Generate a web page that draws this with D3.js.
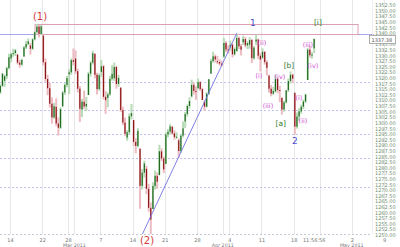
<!DOCTYPE html>
<html>
<head>
<meta charset="utf-8">
<script src="https://cdn.jsdelivr.net/npm/d3@7"></script>
<style>
body{margin:0;background:#fff;}
svg{display:block;font-family:"DejaVu Sans",sans-serif;}
</style>
</head>
<body>
<svg id="chart"></svg>
<script>
// Set data
const sessions = ["Feb 10","Feb 11","Feb 14","Feb 15","Feb 16","Feb 17","Feb 18","Feb 22","Feb 23","Feb 24","Feb 25","Feb 28",
    "Mar 1","Mar 2","Mar 3","Mar 4","Mar 7","Mar 8","Mar 9","Mar 10","Mar 11","Mar 14","Mar 15","Mar 16","Mar 17","Mar 18",
    "Mar 21","Mar 22","Mar 23","Mar 24","Mar 25","Mar 28","Mar 29","Mar 30","Mar 31",
    "Apr 1","Apr 4","Apr 5","Apr 6","Apr 7","Apr 8","Apr 11","Apr 12","Apr 13","Apr 14","Apr 15","Apr 18","Apr 19","Apr 20","Apr 21",
    "Apr 25","Apr 26","Apr 27","Apr 28","Apr 29","May 2","May 3","May 4","May 5","May 6","May 9"];

// three bars a day: [open, high, low, close]
const febBars = [
    [[1312.4,1315.0,1311.7,1313.6],[1313.6,1317.2,1312.8,1316.5],[1316.5,1322.1,1315.9,1321.9]],
    [[1318.7,1321.5,1316.1,1320.8],[1320.8,1325.0,1319.5,1324.4],[1324.4,1330.8,1323.8,1329.2]],
    [[1328.7,1331.2,1326.9,1330.6],[1330.6,1333.0,1329.4,1331.1],[1331.1,1332.9,1329.8,1332.3]],
    [[1330.4,1330.6,1326.0,1326.8],[1326.8,1328.1,1324.6,1325.9],[1325.9,1328.6,1325.4,1328.0]],
    [[1329.5,1334.2,1329.5,1333.6],[1333.6,1336.5,1332.8,1335.1],[1335.1,1337.6,1334.5,1336.3]],
    [[1334.4,1335.6,1330.4,1333.0],[1333.0,1337.7,1332.5,1337.2],[1337.2,1340.8,1336.7,1340.4]],
    [[1340.4,1344.1,1339.8,1342.9],[1342.9,1343.6,1338.1,1339.6],[1339.6,1343.5,1339.2,1343.0]],
    [[1338.9,1338.9,1325.6,1327.0],[1327.0,1328.7,1318.3,1319.5],[1319.5,1321.4,1312.3,1315.4]],
    [[1315.4,1317.9,1306.8,1308.5],[1308.5,1311.3,1299.6,1302.4],[1302.4,1308.9,1301.8,1307.4]],
    [[1307.1,1310.9,1298.5,1299.7],[1299.7,1302.4,1294.3,1297.8],[1297.8,1306.9,1297.2,1306.1]],
    [[1307.3,1314.2,1307.3,1313.5],[1313.5,1317.6,1312.4,1316.9],[1316.9,1320.9,1315.8,1319.9]],
    [[1321.6,1323.8,1312.8,1322.5],[1322.5,1328.7,1321.4,1327.9],[1327.9,1333.1,1325.6,1327.2]]
];
const marBars = [
    [[1328.6,1332.3,1321.8,1323.0],[1323.0,1324.1,1313.5,1315.2],[1315.2,1316.4,1300.3,1306.3]],
    [[1305.9,1310.6,1302.6,1309.4],[1309.4,1314.4,1306.1,1307.3],[1307.3,1311.5,1305.2,1308.4]],
    [[1312.4,1322.8,1312.4,1321.9],[1321.9,1327.5,1320.6,1326.8],[1326.8,1332.1,1325.9,1331.0]],
    [[1330.7,1331.1,1319.8,1321.4],[1321.4,1322.3,1312.6,1315.0],[1315.0,1322.0,1314.3,1321.2]],
    [[1322.7,1328.0,1320.5,1325.2],[1325.2,1325.8,1310.4,1311.6],[1311.6,1314.2,1304.0,1310.1]],
    [[1311.1,1313.5,1306.9,1312.7],[1312.7,1320.9,1312.0,1319.6],[1319.6,1325.7,1318.8,1321.8]],
    [[1319.9,1326.8,1318.7,1324.9],[1324.9,1325.4,1315.2,1317.3],[1317.3,1321.3,1316.0,1320.0]],
    [[1315.7,1315.7,1304.8,1305.7],[1305.7,1307.2,1299.0,1300.1],[1300.1,1302.3,1294.2,1295.1]],
    [[1293.4,1296.7,1292.0,1295.8],[1295.8,1304.2,1294.9,1302.9],[1302.9,1308.4,1301.5,1304.3]],
    [[1301.2,1301.3,1289.8,1291.5],[1291.5,1293.2,1286.4,1289.7],[1289.7,1297.6,1289.0,1296.4]],
    [[1288.5,1288.5,1261.7,1271.9],[1271.9,1279.4,1270.3,1277.8],[1277.8,1283.1,1275.6,1281.9]],
    [[1279.5,1280.9,1268.2,1270.6],[1270.6,1272.8,1260.4,1262.1],[1262.1,1264.5,1249.1,1256.9]],
    [[1261.6,1273.5,1261.6,1271.8],[1271.8,1278.7,1270.2,1276.4],[1276.4,1277.9,1270.6,1273.7]],
    [[1276.7,1290.2,1276.7,1287.3],[1287.3,1288.6,1282.9,1284.1],[1284.1,1285.0,1277.6,1279.2]],
    [[1281.7,1295.6,1281.7,1294.8],[1294.8,1297.2,1293.5,1296.0],[1296.0,1299.4,1294.9,1298.4]],
    [[1298.3,1298.4,1294.6,1295.3],[1295.3,1296.7,1292.5,1293.6],[1293.6,1295.8,1292.9,1293.8]],
    [[1292.2,1293.0,1284.5,1287.4],[1287.4,1295.1,1286.6,1294.3],[1294.3,1300.6,1293.5,1297.5]],
    [[1300.6,1304.8,1297.7,1303.9],[1303.9,1308.2,1302.8,1307.5],[1307.5,1311.3,1306.4,1309.7]],
    [[1311.8,1319.2,1311.2,1316.9],[1316.9,1318.0,1312.6,1314.2],[1314.2,1316.3,1310.2,1313.8]],
    [[1315.5,1319.7,1314.8,1318.1],[1318.1,1318.6,1314.2,1315.0],[1315.0,1315.6,1310.2,1310.2]],
    [[1309.4,1310.1,1305.3,1307.2],[1307.2,1313.7,1306.8,1313.0],[1313.0,1319.5,1312.4,1319.4]],
    [[1321.9,1328.4,1321.9,1327.5],[1327.5,1331.7,1326.8,1329.6],[1329.6,1330.4,1326.9,1328.3]],
    [[1327.4,1329.8,1326.2,1327.1],[1327.1,1328.3,1325.5,1326.4],[1326.4,1327.6,1325.0,1325.8]]
];
const aprBars = [
    [[1329.5,1337.9,1328.9,1335.6],[1335.6,1336.4,1331.5,1332.7],[1332.7,1334.6,1330.9,1332.4]],
    [[1333.6,1336.7,1332.1,1334.8],[1334.8,1335.4,1329.1,1330.5],[1330.5,1333.6,1330.0,1332.9]],
    [[1332.0,1339.5,1331.6,1337.8],[1337.8,1338.4,1332.9,1334.1],[1334.1,1335.2,1330.0,1332.6]],
    [[1335.9,1338.8,1334.7,1337.3],[1337.3,1338.2,1333.6,1334.5],[1334.5,1336.4,1332.9,1335.5]],
    [[1334.8,1338.1,1333.0,1336.9],[1336.9,1337.4,1326.6,1328.8],[1328.8,1334.2,1328.1,1333.5]],
    [[1336.2,1339.4,1334.6,1337.1],[1337.1,1337.5,1328.4,1329.9],[1329.9,1331.2,1322.9,1328.2]],
    [[1329.0,1333.2,1328.5,1331.6],[1331.6,1332.0,1325.9,1327.0],[1327.0,1327.9,1321.1,1324.5]],
    [[1321.0,1321.4,1313.5,1315.2],[1315.2,1316.8,1311.8,1313.0],[1313.0,1316.0,1312.4,1314.2]],
    [[1314.0,1321.4,1313.6,1319.5],[1319.5,1320.1,1313.2,1314.6],[1314.6,1316.5,1309.2,1314.4]],
    [[1311.1,1311.3,1303.7,1305.9],[1305.9,1309.8,1305.0,1309.1],[1309.1,1314.5,1308.6,1314.5]],
    [[1314.5,1319.8,1313.7,1318.6],[1318.6,1322.9,1317.5,1321.4],[1321.4,1321.9,1317.8,1319.7]],
    [[1313.4,1313.4,1294.7,1298.3],[1298.3,1304.6,1297.4,1302.8],[1302.8,1306.5,1300.9,1305.1]],
    [[1305.0,1308.1,1304.0,1307.2],[1307.2,1310.4,1306.1,1309.5],[1309.5,1312.9,1308.8,1312.6]],
    [[1319.1,1333.3,1319.1,1332.6],[1332.6,1334.2,1329.0,1330.1],[1330.1,1331.5,1328.6,1330.4]],
    [[1333.2,1337.5,1331.1,1337.4]]
];

const priceTicks = d3.range(1250, 1352.6, 2.5);
const lastPrice = 1337.38;
const lastTime = "11:56:56";

const tickSessions = ["Feb 14","Feb 22","Feb 28","Mar 7","Mar 14","Mar 21","Mar 28","Apr 4","Apr 11","Apr 18","May 2","May 9"];
const monthSessions = ["Mar 1","Apr 1","May 2"];
const monthNames = ["Mar 2011","Apr 2011","May 2011"];
const extraGrid = ["Apr 25"];

// support / resistance
const levels = [1318.3, 1305.5, 1294.8, 1284.2, 1271.3];
const wave1High = 1339.5;
const zoneTop = 1344.1;
const zoneFrom = 5.88, zoneTo = 55.97;
const trendFrom = [22.47, 1250.0], trendTo = [37.2, 1340.1];

// wave labels
const waveText  = ["(1)","(2)","1","2","(i)","(ii)","(iii)","(iv)","[a]","[b]","(i)","(ii)","(iii)","(iv)","[i]"];
const waveAt    = [6.65, 23.24, 39.67, 46.19, 40.6, 41.07, 42.0, 43.86, 44.0, 45.26, 46.8, 47.43, 48.2, 48.98, 49.75];
const wavePrice = [1347.2, 1247.6, 1344.5, 1291.7, 1321.0, 1335.6, 1307.7, 1320.6, 1299.7, 1325.4, 1311.2, 1301.0, 1334.8, 1325.4, 1344.5];
const waveKind  = ["major","major","minor","minor","minute","minute","minute","minute","sub","sub","minute","minute","minute","minute","sub"];

const waveStyle = {
    major: {color: "#d23a3a", size: "10px"},
    minor: {color: "#4a4acc", size: "9px"},
    minute: {color: "#d04ad0", size: "6.5px"},
    sub: {color: "#2f7d2f", size: "7.5px"}
};

// Set width and height
const width = 400;
const height = 247;
const plotRight = 372;
const plotBottom = 234;

const svg = d3.select("#chart").attr("width", width).attr("height", height);

const x = d3.scaleLinear().domain([2, 60]).range([10, 384]);
const y = d3.scaleLinear().domain([1250, 1352.5]).range([235, 5]);
const idx = function(name){ return sessions.indexOf(name); };

const bars = [];
[febBars, marBars, aprBars].flat().forEach(function(day, d){
    day.forEach(function(b, k){
        bars.push({at: d + (k + 0.5) / 3, o: b[0], h: b[1], l: b[2], c: b[3]});
    });
});

svg.append("clipPath").attr("id", "plot-clip")
    .append("rect").attr("x", 0).attr("y", 0).attr("width", plotRight).attr("height", plotBottom);

// grid
const gridSessions = tickSessions.concat(monthSessions, extraGrid);
svg.append("g").selectAll("line").data(gridSessions).join("line")
    .attr("x1", d => Math.round(x(idx(d))) + 0.5).attr("x2", d => Math.round(x(idx(d))) + 0.5)
    .attr("y1", 0).attr("y2", plotBottom)
    .attr("stroke", "#e6e6e6").attr("stroke-width", 1);

svg.append("g").selectAll("line").data(levels).join("line")
    .attr("x1", 0).attr("x2", plotRight)
    .attr("y1", d => Math.round(y(d)) + 0.5).attr("y2", d => Math.round(y(d)) + 0.5)
    .attr("stroke", "#c2c2f2").attr("stroke-dasharray", "2,2");

svg.append("line")
    .attr("x1", 0).attr("x2", plotRight).attr("y1", plotBottom + 0.5).attr("y2", plotBottom + 0.5)
    .attr("stroke", "#c8c8d8").attr("stroke-dasharray", "2,2");

// wave 1 line and zone
svg.append("line")
    .attr("x1", 0).attr("x2", plotRight + 2)
    .attr("y1", Math.round(y(wave1High)) + 0.5).attr("y2", Math.round(y(wave1High)) + 0.5)
    .attr("stroke", "#a8a8f0").attr("stroke-width", 1);

svg.append("rect")
    .attr("x", x(zoneFrom)).attr("y", Math.round(y(zoneTop)) + 0.5)
    .attr("width", x(zoneTo) - x(zoneFrom))
    .attr("height", Math.round(y(wave1High)) - Math.round(y(zoneTop)))
    .attr("fill", "none").attr("stroke", "#dc9fb4").attr("stroke-width", 1);

// candles
const drawCandle = function(g, bar){
    const cx = x(bar.at);
    const up = bar.c >= bar.o;
    g.append("rect")
        .attr("x", cx - 1).attr("width", 2)
        .attr("y", y(bar.h)).attr("height", Math.max(1, y(bar.l) - y(bar.h)))
        .attr("fill", up ? "#b8dbb8" : "#ecbcc2");
    g.append("rect")
        .attr("x", cx - 0.6).attr("width", 1.2)
        .attr("y", y(Math.max(bar.o, bar.c)))
        .attr("height", Math.max(1, Math.abs(y(bar.o) - y(bar.c))))
        .attr("fill", up ? "#1f6a1f" : "#8c1616");
};

const candleGroup = svg.append("g").attr("clip-path", "url(#plot-clip)");
for (const bar of bars){
    drawCandle(candleGroup, bar);
}

// trend line
svg.append("line").attr("clip-path", "url(#plot-clip)")
    .attr("x1", x(trendFrom[0])).attr("y1", y(trendFrom[1]))
    .attr("x2", x(trendTo[0])).attr("y2", y(trendTo[1]))
    .attr("stroke", "#7272e2").attr("stroke-width", 0.9);

// wave labels
svg.append("g").selectAll("text").data(waveText).join("text")
    .attr("x", (d, i) => x(waveAt[i]))
    .attr("y", (d, i) => y(wavePrice[i]))
    .attr("text-anchor", "middle").attr("dominant-baseline", "central")
    .attr("fill", (d, i) => waveStyle[waveKind[i]].color)
    .style("font-size", (d, i) => waveStyle[waveKind[i]].size)
    .text(d => d);

// price axis (the label under the last-price box is hidden, as in the original)
const lastY = Math.round(y(lastPrice));
const shownTicks = priceTicks.filter(p => Math.abs(y(p) - lastY) > 3);
const yAxis = d3.axisRight(y).tickValues(shownTicks).tickFormat(d3.format(".2f")).tickSize(0).tickPadding(0);
const yAxisGroup = svg.append("g").attr("transform", "translate(375,0)").call(yAxis);
yAxisGroup.select(".domain").remove();
yAxisGroup.selectAll("text").attr("fill", "#6f8f6f").style("font-size", "5px").attr("font-family", "DejaVu Sans");

svg.append("line")
    .attr("x1", plotRight + 0.5).attr("x2", plotRight + 0.5).attr("y1", 0).attr("y2", plotBottom)
    .attr("stroke", "#eeeeee");

svg.append("rect").attr("x", 369.5).attr("y", lastY - 3.5).attr("width", 26).attr("height", 8)
    .attr("fill", "#fff").attr("stroke", "#9a9a9a").attr("stroke-width", 0.8);
svg.append("text").attr("x", 371.5).attr("y", lastY + 0.5)
    .attr("dominant-baseline", "central").attr("fill", "#555")
    .style("font-size", "5px").text(lastPrice.toFixed(2));

// time axis
const xAxis = d3.axisBottom(x).tickValues(tickSessions.map(idx))
    .tickFormat(i => sessions[i].split(" ")[1]).tickSize(0).tickPadding(0);
const xAxisGroup = svg.append("g").attr("transform", "translate(0,238)").call(xAxis);
xAxisGroup.select(".domain").remove();
xAxisGroup.selectAll("text").attr("fill", "#777").style("font-size", "5px").attr("font-family", "DejaVu Sans");

svg.append("g").selectAll("text").data(monthNames).join("text")
    .attr("x", (d, i) => x(idx(monthSessions[i])))
    .attr("y", 247).attr("text-anchor", "middle")
    .attr("fill", "#777").style("font-size", "4.8px")
    .text(d => d);

const lastBar = bars[bars.length - 1];
svg.append("text").attr("x", x(lastBar.at)).attr("y", 242.3)
    .attr("text-anchor", "middle").attr("fill", "#777").style("font-size", "5px")
    .text(lastTime);
</script>
</body>
</html>
